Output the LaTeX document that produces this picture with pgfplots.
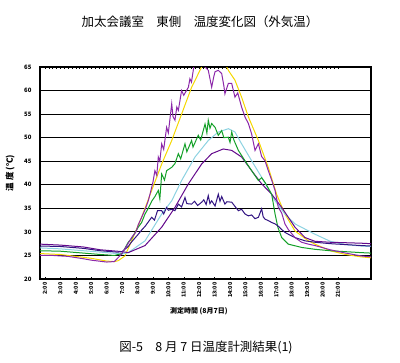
\documentclass[border=0pt]{standalone}
\usepackage{fontspec}
\usepackage{pgfplots}
\pgfplotsset{compat=1.18}
\setmainfont{Noto Sans CJK JP}
\definecolor{cViolet}{RGB}{140,40,170}
\definecolor{cDPurple}{RGB}{100,10,140}
\definecolor{cNavy}{RGB}{50,20,130}
\definecolor{cGreen}{RGB}{20,160,40}
\definecolor{cCyan}{RGB}{140,210,225}
\definecolor{cYellow}{RGB}{245,215,0}
\begin{document}
\begin{tikzpicture}
\path[use as bounding box] (-40bp,-84bp) rectangle (360bp,279bp);
\begin{axis}[at={(0,0)}, anchor=south west, scale only axis,
  width=331bp, height=212bp,
  xmin=1.68, xmax=23.14, ymin=20, ymax=65,
  ytick={20,25,...,65},
  xtick={2,...,21},
  xticklabels={2:00,3:00,4:00,5:00,6:00,7:00,8:00,9:00,10:00,11:00,12:00,13:00,14:00,15:00,16:00,17:00,18:00,19:00,20:00,21:00},
  minor x tick num=3,
  tick align=inside,
  major tick length=2bp, minor tick length=1.5bp,
  ytick style={draw=none},
  ymajorgrids, grid style={black, line width=1.1bp},
  axis line style={line width=1.3bp},
  every tick/.style={black, line width=0.5bp},
  /pgf/number format/assume math mode=true,
  xticklabel style={rotate=90, anchor=east, font=\fontsize{5.5}{6}\selectfont\bfseries},
  yticklabel style={font=\fontsize{6}{6}\selectfont\bfseries, xshift=-5bp},
  xlabel={測定時間 (8月7日)},
  xlabel style={at={(axis description cs:0.48,-0.15)}, anchor=center, font=\fontsize{7}{7}\selectfont\bfseries},
  ylabel={温 度 (℃)},
  ylabel style={at={(axis description cs:-0.09,0.5)}, anchor=center, font=\fontsize{8.5}{9}\selectfont\bfseries},
  every axis plot/.append style={line width=1bp, mark=none},
]
% yellow
\addplot[cYellow] coordinates {
(1.68,25.4)(3,25.2)(4,24.8)(5,24.4)(6,23.8)(6.5,23.7)(6.76,23.9)(7.19,24.9)(7.62,28.1)(8.27,33.1)(8.92,38.8)(9.57,44.4)(10.22,49.4)(10.86,55.0)(11.51,60.7)(12.16,65.0)(12.5,67)(13.5,67)(13.89,64.3)(14.32,62.2)(14.75,58.6)(15.19,54.4)(15.84,49.4)(16.48,43.7)(17.02,38.0)(17.56,33.8)(18.21,30.2)(19.08,28.1)(19.51,27.4)(20.5,26.0)(21.5,25.2)(22.5,24.7)(23.14,24.5)};
% cyan
\addplot[cCyan] coordinates {
(1.68,26.6)(3,26.4)(4.5,26.0)(6,25.6)(7.0,25.3)(7.40,25.6)(8.49,28.1)(9.57,33.8)(10.22,36.6)(10.86,40.9)(11.73,45.9)(12.59,49.4)(13.24,51.2)(13.89,51.9)(14.32,51.2)(14.75,48.7)(15.40,45.1)(16.05,41.6)(16.92,36.6)(17.56,33.8)(18.21,31.7)(18.86,30.6)(19.51,29.5)(20.5,28.0)(21.5,27.3)(22.5,27.0)(23.14,26.9)};
% dark purple
\addplot[cDPurple] coordinates {
(1.68,27.4)(3,27.2)(4.5,26.8)(5.6,26.2)(6.7,25.9)(7.0,25.8)(7.40,25.6)(8.49,27.1)(9.57,31.0)(10.43,35.2)(11.30,40.2)(12.16,44.4)(12.81,46.6)(13.56,47.6)(14.11,47.3)(14.75,45.9)(15.40,43.0)(16.05,40.2)(16.70,38.0)(17.35,35.2)(18.21,31.0)(18.86,28.8)(19.51,28.0)(20.5,27.8)(21.5,27.7)(22.5,27.6)(23.14,27.5)};
% green
\addplot[cGreen] coordinates {
(1.68,26.0)(3,25.9)(4.5,25.5)(5.6,25.2)(6.5,25.0)(7.0,25.4)(7.40,27.8)(7.6,28.5)(8.05,31.0)(8.27,32.0)(8.49,33.8)(8.7,35.0)(8.92,36.5)(9.13,37.5)(9.35,38.8)(9.45,37.0)(9.57,42.3)(9.75,41.0)(9.89,43.0)(10.22,43.7)(10.43,44.5)(10.65,46.6)(10.8,45.5)(11.08,48.7)(11.2,47.0)(11.51,49.4)(11.6,48.0)(11.94,50.5)(12.1,49.5)(12.38,52.9)(12.5,51.0)(12.59,53.7)(12.7,52.0)(12.81,53.0)(13.03,52.2)(13.24,50.5)(13.46,51.5)(13.6,50.0)(13.89,50.1)(14.0,49.0)(14.11,51.2)(14.25,49.5)(14.54,47.3)(14.97,45.1)(15.40,43.0)(15.84,40.9)(16.05,41.5)(16.27,40.5)(16.70,38.0)(16.92,33.8)(17.10,31.0)(17.35,28.8)(17.78,27.4)(18.64,26.7)(19.51,26.3)(20.5,26.0)(21.5,25.8)(22.5,25.6)(23.14,25.5)};
% navy
\addplot[cNavy] coordinates {
(1.68,27.0)(3,26.9)(4.5,26.5)(5.6,26.0)(6.7,25.7)(7.0,25.8)(7.40,26.9)(7.6,27.8)(8.05,29.5)(8.3,30.5)(8.5,31.2)(8.92,33.1)(9.1,32.5)(9.3,34.5)(9.57,34.5)(9.7,33.8)(9.89,35.2)(10.0,34.6)(10.22,34.8)(10.43,34.5)(10.65,35.9)(10.86,35.3)(11.08,37.3)(11.2,36.0)(11.51,35.9)(11.7,36.5)(11.9,35.6)(12.16,36.3)(12.3,36.8)(12.45,35.8)(12.59,37.7)(12.7,36.0)(12.81,36.6)(13.03,35.5)(13.24,38.0)(13.35,36.5)(13.46,37.5)(13.67,35.9)(13.8,36.4)(14.11,36.3)(14.3,35.5)(14.54,34.5)(14.75,34.8)(14.97,33.8)(15.19,33.4)(15.40,33.6)(15.62,32.8)(15.84,33.1)(16.05,34.9)(16.15,33.2)(16.27,32.7)(16.48,32.4)(16.70,32.0)(16.92,31.7)(17.13,31.2)(17.35,30.5)(17.56,29.9)(17.78,29.5)(18.21,28.8)(18.86,28.1)(19.51,27.8)(20.5,27.5)(21.5,27.3)(22.5,27.1)(23.14,27.0)};
% violet
\addplot[cViolet] coordinates {
(1.68,25.0)(2.5,25.0)(3.5,24.8)(4.5,24.3)(5.0,24.0)(5.5,23.8)(6.0,23.6)(6.5,23.7)(6.97,25.3)(7.2,26.5)(7.62,28.8)(7.9,30.0)(8.05,31.5)(8.27,33.1)(8.5,34.8)(8.7,36.6)(8.85,38.5)(9.0,40.5)(9.13,43.0)(9.25,42.0)(9.35,45.9)(9.45,45.0)(9.57,48.7)(9.7,47.5)(9.89,52.2)(10.0,51.0)(10.22,57.2)(10.3,54.5)(10.43,53.7)(10.55,56.5)(10.65,55.8)(10.86,60.0)(11.0,59.0)(11.3,60.7)(11.4,62.5)(11.5,61.8)(11.65,65.0)(11.94,66.4)(12.2,65.5)(12.38,65.0)(12.59,64.3)(12.81,60.7)(12.95,63.0)(13.03,64.0)(13.24,64.3)(13.46,63.6)(13.6,61.0)(13.67,59.3)(13.89,61.5)(14.11,61.5)(14.32,58.6)(14.5,59.5)(14.75,56.5)(14.97,54.4)(15.19,53.0)(15.40,50.8)(15.62,47.3)(15.84,48.7)(16.05,46.0)(16.27,45.1)(16.48,43.0)(16.70,41.0)(16.92,38.8)(17.13,35.2)(17.35,34.0)(17.56,31.7)(17.78,30.5)(18.21,28.8)(18.64,27.8)(19.08,27.4)(19.51,27.1)(20.5,26.2)(21.5,25.5)(22.5,24.9)(23.14,24.7)};
\end{axis}
\node[font=\fontsize{12.5}{14}\selectfont] at (160bp,257bp) {加太会議室　東側　温度変化図（外気温）};
\node[font=\fontsize{12.5}{14}\selectfont] at (166bp,-68bp) {図-5　8 月 7 日温度計測結果(1)};
\end{tikzpicture}
\end{document}
